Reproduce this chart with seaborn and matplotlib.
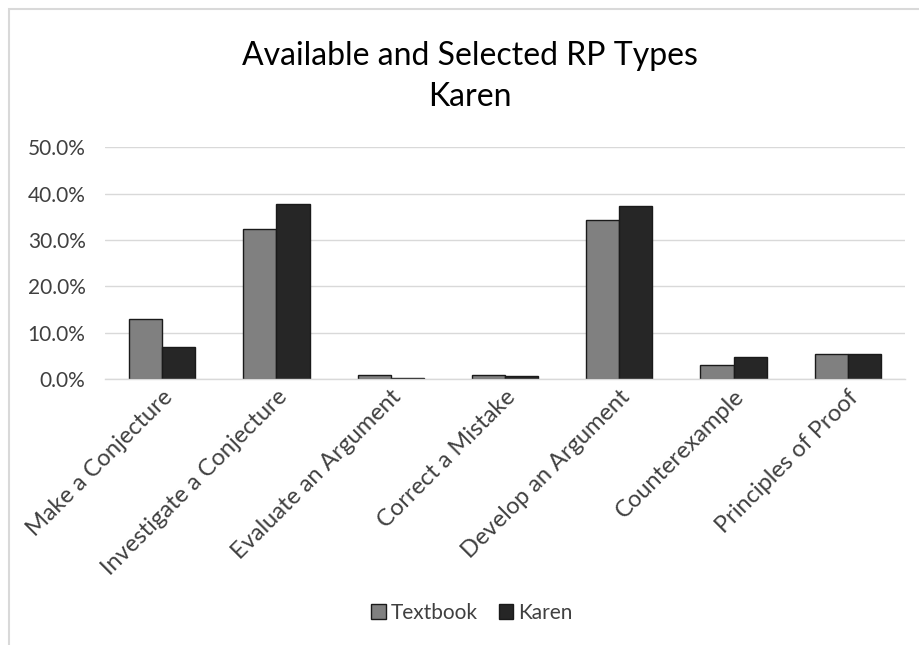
import matplotlib
matplotlib.use("Agg")
import matplotlib.pyplot as plt
from matplotlib.ticker import FuncFormatter
from matplotlib.patches import Rectangle
import seaborn as sns
import pandas as pd

categories = ["Make a Conjecture", "Investigate a Conjecture", "Evaluate an Argument",
              "Correct a Mistake", "Develop an Argument", "Counterexample", "Principles of Proof"]
textbook = [12.9, 32.3, 1.0, 1.0, 34.4, 3.1, 5.5]
karen = [7.0, 37.8, 0.2, 0.7, 37.3, 4.7, 5.5]
series_names = ["Textbook", "Karen"]
y_ticks = [0, 10, 20, 30, 40, 50]

df = pd.DataFrame({
    "category": categories * 2,
    "value": textbook + karen,
    "series": [series_names[0]] * len(categories) + [series_names[1]] * len(categories),
})

sns.set_theme(style="white")
plt.rcParams["font.family"] = ["Lato", "DejaVu Sans"]

fig = plt.figure(figsize=(9.2, 6.45), dpi=100)
ax = fig.add_axes([105 / 920, 1 - 379.3 / 645, 800 / 920, (379.3 - 147.3) / 645])

sns.barplot(data=df, x="category", y="value", hue="series", order=categories,
            hue_order=series_names, palette=["#808080", "#262626"], width=0.58,
            edgecolor="#1a1a1a", linewidth=1.0, saturation=1, ax=ax, legend=True)

ax.set_ylim(0, 50)
ax.set_yticks(y_ticks)
ax.yaxis.set_major_formatter(FuncFormatter(lambda v, _: f"{v:.1f}%"))
ax.grid(axis="y", color="#d9d9d9", linewidth=1)
ax.set_axisbelow(True)
for s in ["top", "right", "left"]:
    ax.spines[s].set_visible(False)
ax.spines["bottom"].set_color("#d9d9d9")
ax.spines["bottom"].set_linewidth(1)
ax.set_xlabel("")
ax.set_ylabel("")
ax.tick_params(axis="y", labelsize=15, colors="#404040", pad=14, length=0)
ax.tick_params(axis="x", labelsize=17, colors="#404040", length=0, pad=5)
ax.set_xticks(range(len(categories)))
ax.set_xticklabels(categories, rotation=45, ha="right", rotation_mode="anchor")

leg = ax.legend(loc="center", ncol=2, frameon=False, fontsize=15, handlelength=0.7,
                handleheight=0.7, handletextpad=0.25, columnspacing=1.0)
for t in leg.get_texts():
    t.set_color("#404040")
leg.set_bbox_to_anchor((472 / 920, 1 - 613 / 645), transform=fig.transFigure)

fig.text(470 / 920, 1 - 56 / 645, "Available and Selected RP Types", ha="center", va="center",
         fontsize=23, color="#000000")
fig.text(470 / 920, 1 - 97 / 645, "Karen", ha="center", va="center", fontsize=23, color="#000000")

# chart frame
fig.patches.append(Rectangle((9 / 920, -0.1), 1.2, 1 - 9 / 645 + 0.1, transform=fig.transFigure,
                             fill=False, edgecolor="#d9d9d9", linewidth=1.5))

fig.savefig("out.png", dpi=100, facecolor="white")
